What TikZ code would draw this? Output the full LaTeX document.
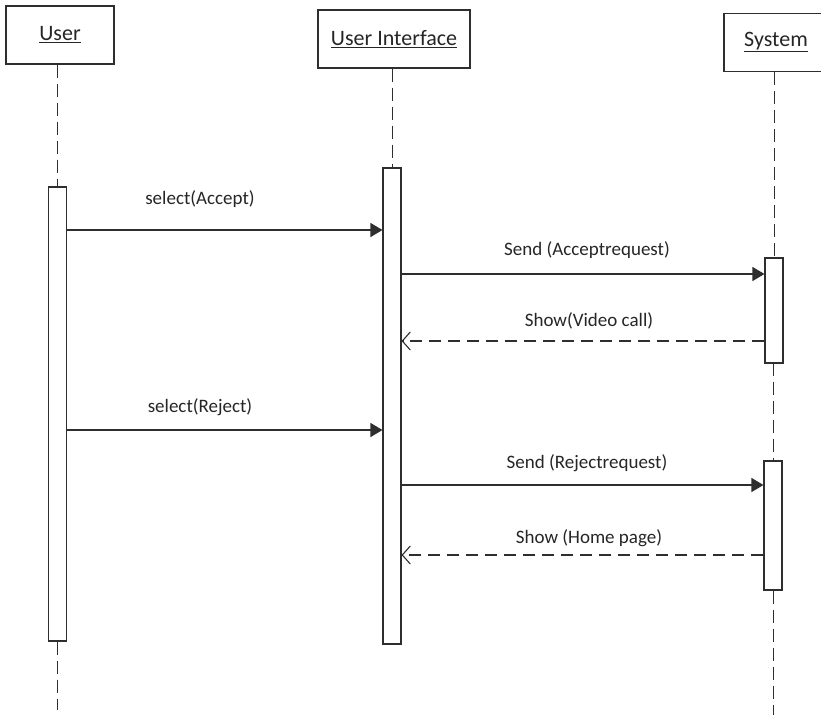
\documentclass[tikz,border=0pt]{standalone}
\usepackage{fontspec}
\setmainfont{Carlito}
\usetikzlibrary{arrows.meta}
\begin{document}
\begin{tikzpicture}[x=1pt,y=-1pt,
  ln/.style={draw=black!82, line width=1.1pt},
  head/.style={ln, fill=white, minimum height=58pt, inner sep=0pt, font=\fontsize{22}{26}\selectfont, text=black!85},
  act/.style={ln, fill=white, minimum width=18pt, inner sep=0pt},
  life/.style={draw=black!82, line width=1pt, dash pattern=on 13pt off 6pt},
  call/.style={draw=black!82, line width=1.2pt, -{Triangle[length=12pt,width=14pt]}},
  ret/.style={draw=black!82, line width=1.1pt, dash pattern=on 12pt off 7pt, -{Straight Barb[length=8pt,width=18pt]}},
  lbl/.style={font=\fontsize{19}{22}\selectfont, text=black!85, inner sep=0pt}
]
\useasboundingbox (0,0) rectangle (821,715);
\fill[white] (0,0) rectangle (821,715);
\clip (0,0) rectangle (821,715);

% heads
\node[head, minimum width=108pt] (user) at (60,35) {\underline{User}};
\node[head, minimum width=152pt] (ui) at (394,39) {\underline{User Interface}};
\node[head, minimum width=106pt] (sys) at (777,42.5) {};
\node[font=\fontsize{22}{26}\selectfont, text=black!85, inner sep=0pt] (systxt) at (776,42) {\underline{System}};

% activations
\node[act, minimum height=454pt] (uact) at (57.5,414) {};
\node[act, minimum height=476pt] (iact) at (392,406) {};
\node[act, minimum height=105pt] (sact1) at (774,310.5) {};
\node[act, minimum height=129pt] (sact2) at (773,525.5) {};

% lifelines
\coordinate (uend) at (57.5,710);
\coordinate (send) at (773,715);
\draw[life] (uact.north |- user.south) -- (uact.north);
\draw[life] (uact.south) -- (uend);
\draw[life] (iact.north |- ui.south) -- (iact.north);
\draw[life] (sact1.north |- sys.south) -- (sact1.north);
\draw[life] (sact1.south) -- (sact2.north |- sact1.south) -- (sact2.north);
\draw[life] (sact2.south) -- (send);

% message rows
\coordinate (y1) at (0,230);
\coordinate (y2) at (0,274);
\coordinate (y3) at (0,341);
\coordinate (y4) at (0,430);
\coordinate (y5) at (0,485);
\coordinate (y6) at (0,555);

\draw[call] (uact.east |- y1) -- (iact.west |- y1);
\draw[call] (iact.east |- y2) -- (sact1.west |- y2);
\draw[ret] (sact1.west |- y3) -- (iact.east |- y3);
\draw[call] (uact.east |- y4) -- (iact.west |- y4);
\draw[call] (iact.east |- y5) -- (sact2.west |- y5);
\draw[ret] (sact2.west |- y6) -- (iact.east |- y6);

% labels
\node[lbl] (l1) at (200,199) {select(Accept)};
\node[lbl] (l2) at (587,250) {Send (Acceptrequest)};
\node[lbl] (l3) at (589,321) {Show(Video call)};
\node[lbl] (l4) at (200,407) {select(Reject)};
\node[lbl] (l5) at (587,463) {Send (Rejectrequest)};
\node[lbl] (l6) at (589,538) {Show (Home page)};
\end{tikzpicture}
\end{document}
